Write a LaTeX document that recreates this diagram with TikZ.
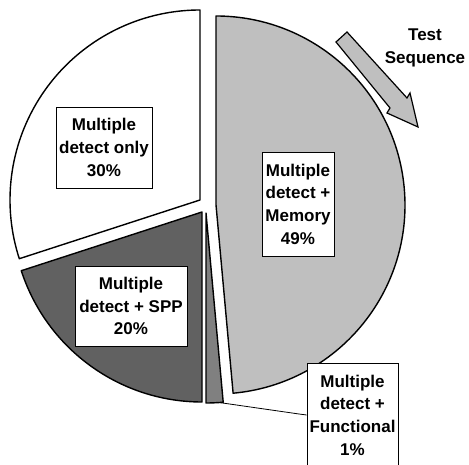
\documentclass[tikz,border=0pt]{standalone}
\usepackage{fontspec}
\setmainfont{Liberation Sans}
\usepackage{tikz}
\usetikzlibrary{positioning, calc}

\begin{document}
\begin{tikzpicture}[x=1pt, y=1pt,
  slice/.style={draw=black, line width=1.4pt, line join=round},
  lbl/.style={draw=black, line width=0.8pt, fill=white, align=center, inner sep=0pt,
    font=\fontsize{17}{22.7}\selectfont\bfseries}]
\useasboundingbox (0,0) rectangle (469,465);
\clip (0,0) rectangle (469,465);

% Mittelpunkte der Sektoren
\coordinate (conly) at (200,265);
\coordinate (cspp) at (202,253);
\coordinate (cfun) at (206,252);
\coordinate (cmem) at (216,260);

% Sektoren
\draw[slice, fill=white] (conly) -- ++(90:190) arc[start angle=90, end angle=198, radius=190] -- cycle;
\draw[slice, fill=black!62] (cspp) -- ++(198:190) arc[start angle=198, end angle=270, radius=190] -- cycle;
\draw[slice, fill=black!50] (cfun) -- ++(270:190) arc[start angle=270, end angle=275.2, radius=190] -- cycle;
\draw[slice, fill=black!25] (cmem) -- ++(-84.8:189) arc[start angle=-84.8, end angle=90, radius=189] -- cycle;

% Beschriftungen
\node[lbl, minimum width=96pt, minimum height=81pt] (only) at (104,317.5) {Multiple\\detect only\\30\%};
\node[lbl, minimum width=112pt, minimum height=80pt] (spp) at (131,159) {Multiple\\detect + SPP\\20\%};
\node[lbl, minimum width=72pt, minimum height=104pt] (mem) at (298,261) {Multiple\\detect +\\Memory\\49\%};
\node[lbl, minimum width=91pt, minimum height=104pt] (fun) at (352.5,50) {Multiple\\detect +\\Functional\\1\%};

% Hinweislinie
\coordinate (fpt) at ($(cfun)+(274:190)$);
\coordinate (fbend) at (299,51);
\draw[line width=0.8pt] (fpt) -- (fbend) -- (fun.west);

% Pfeil Testfolge
\draw[line width=1.2pt, fill=black!25, line join=miter]
  (336,423) -- (347,433) -- (407,367) -- (410,372) -- (418,338) -- (387,352) -- (390,357) -- cycle;
\node[font=\fontsize{17}{23.5}\selectfont\bfseries, align=center] (seq) at (425,417) {Test\\Sequence};
\end{tikzpicture}
\end{document}
